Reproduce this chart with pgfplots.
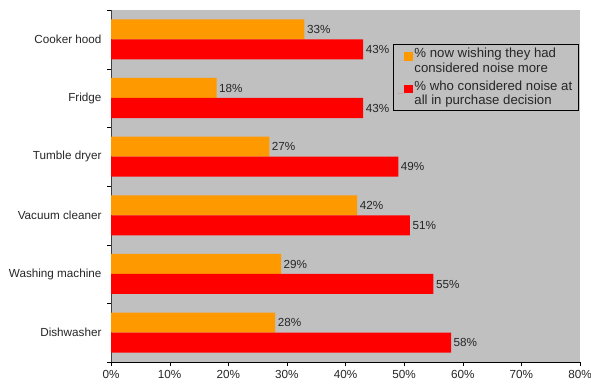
\documentclass[border=0pt]{standalone}
\usepackage{pgfplots}
\pgfplotsset{compat=1.18}
\usepackage{fontspec}
\setmainfont{Liberation Sans}
\definecolor{bgc}{HTML}{C0C0C0}
\definecolor{orng}{HTML}{FF9900}
\definecolor{rd}{HTML}{FF0000}
\begin{document}
\begin{tikzpicture}[x=1pt,y=1pt]
\path[use as bounding box] (0,0) rectangle (591,385);
\begin{axis}[
  at={(111pt,23pt)}, anchor=south west,
  scale only axis, width=469pt, height=352pt,
  xbar, bar width=20pt,
  xmin=0, xmax=80, ymin=-0.5, ymax=5.5,
  axis background/.style={fill=bgc},
  axis x line*=bottom, axis y line*=left,
  axis line style={-},
  x axis line style={black},
  y axis line style={black!75},
  tick align=outside,
  major tick length=4pt, minor tick length=4pt,
  xtick={0,10,...,80},
  xticklabels={0\%,10\%,20\%,30\%,40\%,50\%,60\%,70\%,80\%},
  ytick={0,...,5},
  yticklabels={Dishwasher,Washing machine,Vacuum cleaner,Tumble dryer,Fridge,Cooker hood},
  minor ytick={-0.5,0.5,...,5.5},
  major y tick style={draw=none},
  minor y tick style={draw=black},
  major x tick style={black},
  ticklabel style={font=\fontsize{11.7}{14}\selectfont, text=black!85},
  yticklabel style={xshift=-2pt},
  xticklabel style={yshift=-1pt},
  point meta=x,
  nodes near coords={\pgfmathprintnumber[assume math mode=true]{\pgfplotspointmeta}\%},
  every node near coord/.append style={font=\fontsize{11.7}{14}\selectfont, anchor=west, inner sep=2.5pt, text=black!85},
  legend cell align=left,
  legend style={at={(0.996,0.903)}, anchor=north east, fill=bgc, draw=black,
    font=\fontsize{13.2}{14.2}\selectfont, nodes={align=left, text=black!85, inner xsep=1.2pt},
    inner xsep=4.5pt, inner ysep=2pt, row sep=3pt},
  legend image code/.code={\path (0pt,0pt) -- (7pt,0pt); \fill[#1] (7pt,0pt) rectangle (16pt,8.5pt);},
]
\addplot[fill=orng, draw=none, bar shift=10pt] coordinates {
  (28,0) (29,1) (42,2) (27,3) (18,4) (33,5)
};
\addlegendentry{\% now wishing they had\\considered noise more}
\addplot[fill=rd, draw=none, bar shift=-10pt] coordinates {
  (58,0) (55,1) (51,2) (49,3) (43,4) (43,5)
};
\addlegendentry{\% who considered noise at\\all in purchase decision}
\end{axis}
\end{tikzpicture}
\end{document}
